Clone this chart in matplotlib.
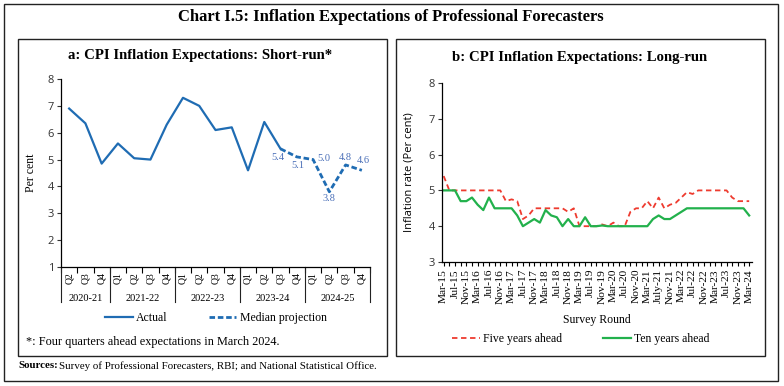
import numpy as np
import matplotlib
matplotlib.use('Agg')
from matplotlib import pyplot as plt
from matplotlib.patches import Rectangle

# ---- data: panel a (short-run) ----
quarters = ['Q2', 'Q3', 'Q4'] + ['Q1', 'Q2', 'Q3', 'Q4'] * 4
years = ['2020-21', '2021-22', '2022-23', '2023-24', '2024-25']
year_len = [3, 4, 4, 4, 4]
actual = [6.9, 6.35, 4.85, 5.6, 5.05, 5.0, 6.3, 7.3, 7.0, 6.1, 6.2, 4.6, 6.4, 5.4]
projection = [5.4, 5.1, 5.0, 3.8, 4.8, 4.6]
proj_start = 13

# ---- data: panel b (long-run) ----
rounds = ['Mar-15', 'May-15', 'Jul-15', 'Sep-15', 'Nov-15', 'Jan-16',
          'Mar-16', 'May-16', 'Jul-16', 'Sep-16', 'Nov-16', 'Jan-17',
          'Mar-17', 'May-17', 'Jul-17', 'Sep-17', 'Nov-17', 'Jan-18',
          'Mar-18', 'May-18', 'Jul-18', 'Sep-18', 'Nov-18', 'Jan-19',
          'Mar-19', 'May-19', 'Jul-19', 'Sep-19', 'Nov-19', 'Jan-20',
          'Mar-20', 'May-20', 'Jul-20', 'Sep-20', 'Nov-20', 'Jan-21',
          'Mar-21', 'May-21', 'July-21', 'Sep-21', 'Nov-21', 'Jan-22',
          'Mar-22', 'May-22', 'Jul-22', 'Sep-22', 'Nov-22', 'Jan-23',
          'Mar-23', 'May-23', 'Jul-23', 'Sep-23', 'Nov-23', 'Jan-24',
          'Mar-24']
five_yr = [5.4, 5.0, 5.0, 5.0, 5.0, 5.0, 5.0, 5.0, 5.0, 5.0, 5.0, 4.7, 4.75, 4.7,
           4.2, 4.3, 4.5, 4.5, 4.5, 4.5, 4.5, 4.5, 4.4, 4.5, 4.0, 4.0, 4.0, 4.0,
           4.05, 4.0, 4.1, 4.0, 4.0, 4.4, 4.5, 4.5, 4.7, 4.5, 4.8, 4.5, 4.6, 4.65,
           4.8, 4.95, 4.9, 5.0, 5.0, 5.0, 5.0, 5.0, 5.0, 4.8, 4.7, 4.7, 4.7]
ten_yr = [5.0, 5.0, 5.0, 4.7, 4.7, 4.8, 4.6, 4.45, 4.8, 4.5, 4.5, 4.5, 4.5, 4.3,
          4.0, 4.1, 4.2, 4.1, 4.45, 4.3, 4.25, 4.0, 4.2, 4.0, 4.0, 4.25, 4.0, 4.0,
          4.02, 4.0, 4.0, 4.0, 4.0, 4.0, 4.0, 4.0, 4.0, 4.2, 4.3, 4.2, 4.2, 4.3,
          4.4, 4.5, 4.5, 4.5, 4.5, 4.5, 4.5, 4.5, 4.5, 4.5, 4.5, 4.5, 4.3]

W, H = 784, 386
BLUE = '#1f6cb3'
LBLUE = '#4a6fb8'
RED = '#ee3b2f'
GREEN = '#22b14c'
SERIF = ['Liberation Serif', 'DejaVu Serif']
SANS = ['Open Sans', 'DejaVu Sans']

plt.rcParams['font.family'] = SERIF

def fx(x):
    return x / W

def fy(y):
    return 1 - y / H

def box(x0, y0, x1, y1, lw=1.0):
    fig.patches.append(Rectangle((fx(x0), fy(y1)), fx(x1) - fx(x0), fy(y0) - fy(y1),
                                 transform=fig.transFigure, fill=False,
                                 edgecolor='#222222', linewidth=lw))

fig = plt.figure(figsize=(W / 100, H / 100), dpi=100)

box(4, 4, 778, 381)
box(18, 39, 387, 356)
box(396, 39, 765, 356)

fig.text(fx(391), fy(17), 'Chart I.5: Inflation Expectations of Professional Forecasters',
         ha='center', va='center', fontsize=12, fontweight='bold')

# ---------------- panel a ----------------
ax = fig.add_axes([fx(61), fy(267), fx(370) - fx(61), fy(79) - fy(267)])
x = np.arange(len(quarters))
ax.plot(x[:len(actual)], actual, color=BLUE, lw=1.6, label='Actual')
px = x[proj_start:proj_start + len(projection)]
ax.plot(px, projection, color=BLUE, lw=2.0, ls=(0, (2, 1)), label='Median projection')
offs = [(-2, -6), (1, -6), (8, 1), (0, -5), (0, 5), (1, 7)]
for xi, v, (dx, dy) in zip(px, projection, offs):
    ax.annotate(f'{v:.1f}', (xi, v), xytext=(dx, dy), textcoords='offset points',
                ha='center', va='center', fontsize=7.5, color=LBLUE)

ax.set_xlim(-0.5, len(quarters) - 0.5)
ax.set_ylim(1, 8)
ax.set_yticks(range(1, 9))
ax.tick_params(axis='y', length=3, width=0.8, labelsize=8, pad=2, colors='#333333')
for lab in ax.get_yticklabels():
    lab.set_fontfamily(SANS)
ax.set_xticks(np.arange(-0.5, len(quarters), 1))
ax.set_xticklabels([])
ax.tick_params(axis='x', length=4, width=0.8, direction='out')
for s in ['top', 'right']:
    ax.spines[s].set_visible(False)
for s in ['left', 'bottom']:
    ax.spines[s].set_linewidth(0.9)
ax.set_ylabel('Per cent', fontsize=8.5, labelpad=8)
tr = ax.get_xaxis_transform()
for xi, q in zip(x, quarters):
    ax.text(xi, -0.06, q, transform=tr, rotation=90, ha='center', va='center', fontsize=7)
edges = np.concatenate([[0], np.cumsum(year_len)]) - 0.5
for i, yr in enumerate(years):
    ax.text((edges[i] + edges[i + 1]) / 2, -0.165, yr, transform=tr,
            ha='center', va='center', fontsize=7.5)
for e in edges:
    ax.plot([e, e], [0, -0.185], transform=tr, color='#222222', lw=0.8, clip_on=False)

fig.text(fx(200), fy(56), 'a: CPI Inflation Expectations: Short-run*',
         ha='center', va='center', fontsize=10.6, fontweight='bold')
fig.legend(ax.get_lines()[:2], ['Actual', 'Median projection'], loc='center',
           bbox_to_anchor=(fx(216), fy(318)), ncol=2, frameon=False, fontsize=8.5,
           handlelength=2.3, columnspacing=3.5, handletextpad=0.3)
fig.text(fx(26), fy(342), '*: Four quarters ahead expectations in March 2024.',
         ha='left', va='center', fontsize=8.8)

# ---------------- panel b ----------------
bx = fig.add_axes([fx(442), fy(262), fx(752) - fx(442), fy(83) - fy(262)])
r = np.arange(len(rounds))
l5, = bx.plot(r, five_yr, color=RED, lw=1.3, ls=(0, (3, 2)))
l10, = bx.plot(r, ten_yr, color=GREEN, lw=1.6)
bx.set_xlim(-0.3, len(rounds) - 0.5)
bx.set_ylim(3, 8)
bx.set_yticks(range(3, 9))
bx.tick_params(axis='y', length=3, width=0.8, labelsize=8, pad=2, colors='#333333')
for lab in bx.get_yticklabels():
    lab.set_fontfamily(SANS)
bx.set_xticks(r)
bx.set_xticklabels([lab if i % 2 == 0 else '' for i, lab in enumerate(rounds)],
                   rotation=90, fontsize=8.2)
bx.tick_params(axis='x', length=3, width=0.8, pad=2)
for s in ['top', 'right']:
    bx.spines[s].set_visible(False)
for s in ['left', 'bottom']:
    bx.spines[s].set_linewidth(0.9)
bx.set_ylabel('Inflation rate (Per cent)', fontsize=8, fontfamily=SANS, labelpad=10)
bx.set_xlabel('Survey Round', fontsize=8.5, labelpad=7)

fig.text(fx(580), fy(58), 'b: CPI Inflation Expectations: Long-run',
         ha='center', va='center', fontsize=10.6, fontweight='bold')
fig.legend([l5, l10], ['Five years ahead', 'Ten years ahead'], loc='center',
           bbox_to_anchor=(fx(581), fy(339)), ncol=2, frameon=False, fontsize=8.5,
           handlelength=2.3, columnspacing=3.5, handletextpad=0.3)

fig.text(fx(18), fy(366), 'Sources:', ha='left', va='center', fontsize=7.8, fontweight='bold')
fig.text(fx(59), fy(366), 'Survey of Professional Forecasters, RBI; and National Statistical Office.',
         ha='left', va='center', fontsize=7.8)

fig.savefig('out.png', dpi=100)
